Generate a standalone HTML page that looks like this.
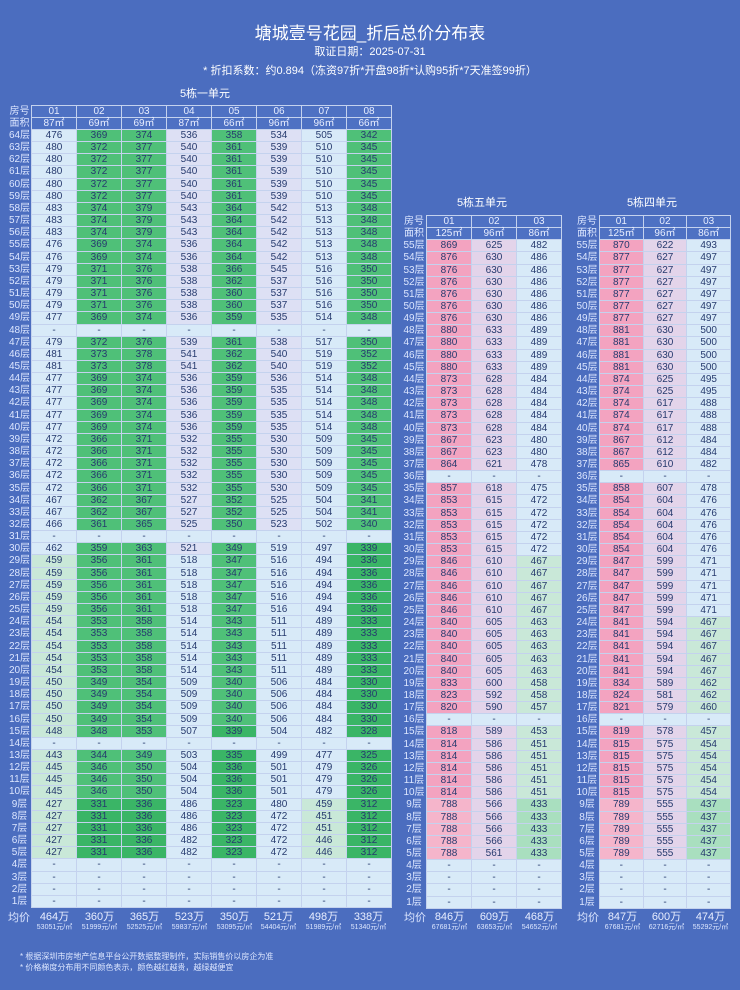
<!DOCTYPE html>
<html><head><meta charset="utf-8">
<style>
*{margin:0;padding:0;box-sizing:border-box}
body{width:740px;height:990px;background:#4b6dbf;font-family:"Liberation Sans","Noto Sans CJK SC",sans-serif;position:relative;overflow:hidden;color:#fff}
.t{position:absolute;left:0;width:740px;text-align:center;white-space:nowrap}
.lab{position:absolute;display:grid;grid-template-columns:1fr;row-gap:1px;font-size:10px;color:#dce6ff;text-align:center}
.lab i{font-style:normal;line-height:11.16px;height:11.16px}
.g8,.g3c{position:absolute;display:grid;gap:1px;background:#c4d2ee;font-size:10px;border:1px solid #c4d2ee}
.g8{grid-template-columns:repeat(8,1fr)}
.g3c{grid-template-columns:repeat(3,1fr)}
.g8 i,.g3c i{font-style:normal;text-align:center;line-height:11.16px;height:11.16px;color:#263a6e;background:#d8eaf8}
i.h{background:#4e71c3!important;color:#e8eeff!important}
i.g{background:#4fc078}i.g2{background:#3ab566}i.lg{background:#c9e8d8}i.b{background:#d8eaf8}i.l{background:#dde0f4}
i.p{background:#f3a3c0}i.p2{background:#f5b5cb}i.m{background:#e3d4ea}i.g3{background:#a9dfbf}
.avg{position:absolute;text-align:center;width:45px;line-height:1}
.avg b{display:block;font-weight:normal;font-size:11px;color:#e8eeff}
.avg s{display:block;text-decoration:none;font-size:7px;color:#dce6ff;margin-top:1px}
</style></head><body>
<div class="t" style="top:19px;font-size:17px">塘城壹号花园_折后总价分布表</div>
<div class="t" style="top:43px;font-size:11px">取证日期：2025-07-31</div>
<div class="t" style="top:62px;font-size:11px">* 折扣系数：约0.894（冻资97折*开盘98折*认购95折*7天准签99折）</div>
<div class="t" style="top:85px;font-size:11px;left:-165px">5栋一单元</div>
<div class="t" style="top:194px;font-size:11px;left:112px">5栋五单元</div>
<div class="t" style="top:194px;font-size:11px;left:282px">5栋四单元</div>

<div class="lab" style="left:8px;top:105.7px;width:23px">
<i>房号</i><i>面积</i><i>64层</i><i>63层</i><i>62层</i><i>61层</i><i>60层</i><i>59层</i><i>58层</i><i>57层</i><i>56层</i><i>55层</i><i>54层</i><i>53层</i><i>52层</i><i>51层</i><i>50层</i><i>49层</i><i>48层</i><i>47层</i><i>46层</i><i>45层</i><i>44层</i><i>43层</i><i>42层</i><i>41层</i><i>40层</i><i>39层</i><i>38层</i><i>37层</i><i>36层</i><i>35层</i><i>34层</i><i>33层</i><i>32层</i><i>31层</i><i>30层</i><i>29层</i><i>28层</i><i>27层</i><i>26层</i><i>25层</i><i>24层</i><i>23层</i><i>22层</i><i>21层</i><i>20层</i><i>19层</i><i>18层</i><i>17层</i><i>16层</i><i>15层</i><i>14层</i><i>13层</i><i>12层</i><i>11层</i><i>10层</i><i>9层</i><i>8层</i><i>7层</i><i>6层</i><i>5层</i><i>4层</i><i>3层</i><i>2层</i><i>1层</i>
</div>
<div class="g8" style="left:31px;top:104.7px;width:361px">
<i class=h>01</i><i class=h>02</i><i class=h>03</i><i class=h>04</i><i class=h>05</i><i class=h>06</i><i class=h>07</i><i class=h>08</i>
<i class=h>87㎡</i><i class=h>69㎡</i><i class=h>69㎡</i><i class=h>87㎡</i><i class=h>66㎡</i><i class=h>96㎡</i><i class=h>96㎡</i><i class=h>66㎡</i>
<i class=b>476</i><i class=g>369</i><i class=g>374</i><i class=l>536</i><i class=g>358</i><i class=l>534</i><i class=b>505</i><i class=g>342</i>
<i class=b>480</i><i class=g>372</i><i class=g>377</i><i class=l>540</i><i class=g>361</i><i class=l>539</i><i class=b>510</i><i class=g>345</i>
<i class=b>480</i><i class=g>372</i><i class=g>377</i><i class=l>540</i><i class=g>361</i><i class=l>539</i><i class=b>510</i><i class=g>345</i>
<i class=b>480</i><i class=g>372</i><i class=g>377</i><i class=l>540</i><i class=g>361</i><i class=l>539</i><i class=b>510</i><i class=g>345</i>
<i class=b>480</i><i class=g>372</i><i class=g>377</i><i class=l>540</i><i class=g>361</i><i class=l>539</i><i class=b>510</i><i class=g>345</i>
<i class=b>480</i><i class=g>372</i><i class=g>377</i><i class=l>540</i><i class=g>361</i><i class=l>539</i><i class=b>510</i><i class=g>345</i>
<i class=b>483</i><i class=g>374</i><i class=g>379</i><i class=l>543</i><i class=g>364</i><i class=l>542</i><i class=b>513</i><i class=g>348</i>
<i class=b>483</i><i class=g>374</i><i class=g>379</i><i class=l>543</i><i class=g>364</i><i class=l>542</i><i class=b>513</i><i class=g>348</i>
<i class=b>483</i><i class=g>374</i><i class=g>379</i><i class=l>543</i><i class=g>364</i><i class=l>542</i><i class=b>513</i><i class=g>348</i>
<i class=b>476</i><i class=g>369</i><i class=g>374</i><i class=l>536</i><i class=g>364</i><i class=l>542</i><i class=b>513</i><i class=g>348</i>
<i class=b>476</i><i class=g>369</i><i class=g>374</i><i class=l>536</i><i class=g>364</i><i class=l>542</i><i class=b>513</i><i class=g>348</i>
<i class=b>479</i><i class=g>371</i><i class=g>376</i><i class=l>538</i><i class=g>366</i><i class=l>545</i><i class=b>516</i><i class=g>350</i>
<i class=b>479</i><i class=g>371</i><i class=g>376</i><i class=l>538</i><i class=g>362</i><i class=l>537</i><i class=b>516</i><i class=g>350</i>
<i class=b>479</i><i class=g>371</i><i class=g>376</i><i class=l>538</i><i class=g>360</i><i class=l>537</i><i class=b>516</i><i class=g>350</i>
<i class=b>479</i><i class=g>371</i><i class=g>376</i><i class=l>538</i><i class=g>360</i><i class=l>537</i><i class=b>516</i><i class=g>350</i>
<i class=b>477</i><i class=g>369</i><i class=g>374</i><i class=l>536</i><i class=g>359</i><i class=l>535</i><i class=b>514</i><i class=g>348</i>
<i>-</i><i>-</i><i>-</i><i>-</i><i>-</i><i>-</i><i>-</i><i>-</i>
<i class=b>479</i><i class=g>372</i><i class=g>376</i><i class=l>539</i><i class=g>361</i><i class=l>538</i><i class=b>517</i><i class=g>350</i>
<i class=b>481</i><i class=g>373</i><i class=g>378</i><i class=l>541</i><i class=g>362</i><i class=l>540</i><i class=b>519</i><i class=g>352</i>
<i class=b>481</i><i class=g>373</i><i class=g>378</i><i class=l>541</i><i class=g>362</i><i class=l>540</i><i class=b>519</i><i class=g>352</i>
<i class=b>477</i><i class=g>369</i><i class=g>374</i><i class=l>536</i><i class=g>359</i><i class=l>536</i><i class=b>514</i><i class=g>348</i>
<i class=b>477</i><i class=g>369</i><i class=g>374</i><i class=l>536</i><i class=g>359</i><i class=l>535</i><i class=b>514</i><i class=g>348</i>
<i class=b>477</i><i class=g>369</i><i class=g>374</i><i class=l>536</i><i class=g>359</i><i class=l>535</i><i class=b>514</i><i class=g>348</i>
<i class=b>477</i><i class=g>369</i><i class=g>374</i><i class=l>536</i><i class=g>359</i><i class=l>535</i><i class=b>514</i><i class=g>348</i>
<i class=b>477</i><i class=g>369</i><i class=g>374</i><i class=l>536</i><i class=g>359</i><i class=l>535</i><i class=b>514</i><i class=g>348</i>
<i class=b>472</i><i class=g>366</i><i class=g>371</i><i class=l>532</i><i class=g>355</i><i class=l>530</i><i class=b>509</i><i class=g>345</i>
<i class=b>472</i><i class=g>366</i><i class=g>371</i><i class=l>532</i><i class=g>355</i><i class=l>530</i><i class=b>509</i><i class=g>345</i>
<i class=b>472</i><i class=g>366</i><i class=g>371</i><i class=l>532</i><i class=g>355</i><i class=l>530</i><i class=b>509</i><i class=g>345</i>
<i class=b>472</i><i class=g>366</i><i class=g>371</i><i class=l>532</i><i class=g>355</i><i class=l>530</i><i class=b>509</i><i class=g>345</i>
<i class=b>472</i><i class=g>366</i><i class=g>371</i><i class=l>532</i><i class=g>355</i><i class=l>530</i><i class=b>509</i><i class=g>345</i>
<i class=b>467</i><i class=g>362</i><i class=g>367</i><i class=l>527</i><i class=g>352</i><i class=l>525</i><i class=b>504</i><i class=g>341</i>
<i class=b>467</i><i class=g>362</i><i class=g>367</i><i class=l>527</i><i class=g>352</i><i class=l>525</i><i class=b>504</i><i class=g>341</i>
<i class=b>466</i><i class=g>361</i><i class=g>365</i><i class=l>525</i><i class=g>350</i><i class=l>523</i><i class=b>502</i><i class=g>340</i>
<i>-</i><i>-</i><i>-</i><i>-</i><i>-</i><i>-</i><i>-</i><i>-</i>
<i class=b>462</i><i class=g>359</i><i class=g>363</i><i class=l>521</i><i class=g>349</i><i class=b>519</i><i class=b>497</i><i class=g2>339</i>
<i class=lg>459</i><i class=g>356</i><i class=g>361</i><i class=b>518</i><i class=g>347</i><i class=b>516</i><i class=b>494</i><i class=g2>336</i>
<i class=lg>459</i><i class=g>356</i><i class=g>361</i><i class=b>518</i><i class=g>347</i><i class=b>516</i><i class=b>494</i><i class=g2>336</i>
<i class=lg>459</i><i class=g>356</i><i class=g>361</i><i class=b>518</i><i class=g>347</i><i class=b>516</i><i class=b>494</i><i class=g2>336</i>
<i class=lg>459</i><i class=g>356</i><i class=g>361</i><i class=b>518</i><i class=g>347</i><i class=b>516</i><i class=b>494</i><i class=g2>336</i>
<i class=lg>459</i><i class=g>356</i><i class=g>361</i><i class=b>518</i><i class=g>347</i><i class=b>516</i><i class=b>494</i><i class=g2>336</i>
<i class=lg>454</i><i class=g>353</i><i class=g>358</i><i class=b>514</i><i class=g>343</i><i class=b>511</i><i class=b>489</i><i class=g2>333</i>
<i class=lg>454</i><i class=g>353</i><i class=g>358</i><i class=b>514</i><i class=g>343</i><i class=b>511</i><i class=b>489</i><i class=g2>333</i>
<i class=lg>454</i><i class=g>353</i><i class=g>358</i><i class=b>514</i><i class=g>343</i><i class=b>511</i><i class=b>489</i><i class=g2>333</i>
<i class=lg>454</i><i class=g>353</i><i class=g>358</i><i class=b>514</i><i class=g>343</i><i class=b>511</i><i class=b>489</i><i class=g2>333</i>
<i class=lg>454</i><i class=g>353</i><i class=g>358</i><i class=b>514</i><i class=g>343</i><i class=b>511</i><i class=b>489</i><i class=g2>333</i>
<i class=lg>450</i><i class=g>349</i><i class=g>354</i><i class=b>509</i><i class=g>340</i><i class=b>506</i><i class=b>484</i><i class=g2>330</i>
<i class=lg>450</i><i class=g>349</i><i class=g>354</i><i class=b>509</i><i class=g>340</i><i class=b>506</i><i class=b>484</i><i class=g2>330</i>
<i class=lg>450</i><i class=g>349</i><i class=g>354</i><i class=b>509</i><i class=g>340</i><i class=b>506</i><i class=b>484</i><i class=g2>330</i>
<i class=lg>450</i><i class=g>349</i><i class=g>354</i><i class=b>509</i><i class=g>340</i><i class=b>506</i><i class=b>484</i><i class=g2>330</i>
<i class=lg>448</i><i class=g>348</i><i class=g>353</i><i class=b>507</i><i class=g2>339</i><i class=b>504</i><i class=b>482</i><i class=g2>328</i>
<i>-</i><i>-</i><i>-</i><i>-</i><i>-</i><i>-</i><i>-</i><i>-</i>
<i class=lg>443</i><i class=g>344</i><i class=g>349</i><i class=b>503</i><i class=g2>335</i><i class=b>499</i><i class=b>477</i><i class=g2>325</i>
<i class=lg>445</i><i class=g>346</i><i class=g>350</i><i class=b>504</i><i class=g2>336</i><i class=b>501</i><i class=b>479</i><i class=g2>326</i>
<i class=lg>445</i><i class=g>346</i><i class=g>350</i><i class=b>504</i><i class=g2>336</i><i class=b>501</i><i class=b>479</i><i class=g2>326</i>
<i class=lg>445</i><i class=g>346</i><i class=g>350</i><i class=b>504</i><i class=g2>336</i><i class=b>501</i><i class=b>479</i><i class=g2>326</i>
<i class=lg>427</i><i class=g2>331</i><i class=g2>336</i><i class=b>486</i><i class=g2>323</i><i class=b>480</i><i class=lg>459</i><i class=g2>312</i>
<i class=lg>427</i><i class=g2>331</i><i class=g2>336</i><i class=b>486</i><i class=g2>323</i><i class=b>472</i><i class=lg>451</i><i class=g2>312</i>
<i class=lg>427</i><i class=g2>331</i><i class=g2>336</i><i class=b>486</i><i class=g2>323</i><i class=b>472</i><i class=lg>451</i><i class=g2>312</i>
<i class=lg>427</i><i class=g2>331</i><i class=g2>336</i><i class=b>482</i><i class=g2>323</i><i class=b>472</i><i class=lg>446</i><i class=g2>312</i>
<i class=lg>427</i><i class=g2>331</i><i class=g2>336</i><i class=b>482</i><i class=g2>323</i><i class=b>472</i><i class=lg>446</i><i class=g2>312</i>
<i>-</i><i>-</i><i>-</i><i>-</i><i>-</i><i>-</i><i>-</i><i>-</i>
<i>-</i><i>-</i><i>-</i><i>-</i><i>-</i><i>-</i><i>-</i><i>-</i>
<i>-</i><i>-</i><i>-</i><i>-</i><i>-</i><i>-</i><i>-</i><i>-</i>
<i>-</i><i>-</i><i>-</i><i>-</i><i>-</i><i>-</i><i>-</i><i>-</i>
</div>

<div class="lab" style="left:6px;top:913px;width:26px;font-size:11px"><i>均价</i></div>
<div class="avg" style="left:32px;top:912px"><b>464万</b><s>53051元/㎡</s></div>
<div class="avg" style="left:77px;top:912px"><b>360万</b><s>51999元/㎡</s></div>
<div class="avg" style="left:122px;top:912px"><b>365万</b><s>52525元/㎡</s></div>
<div class="avg" style="left:167px;top:912px"><b>523万</b><s>59837元/㎡</s></div>
<div class="avg" style="left:212px;top:912px"><b>350万</b><s>53095元/㎡</s></div>
<div class="avg" style="left:256px;top:912px"><b>521万</b><s>54404元/㎡</s></div>
<div class="avg" style="left:301px;top:912px"><b>498万</b><s>51989元/㎡</s></div>
<div class="avg" style="left:346px;top:912px"><b>338万</b><s>51340元/㎡</s></div>

<div class="lab" style="left:402px;top:215.9px;width:24px">
<i>房号</i><i>面积</i><i>55层</i><i>54层</i><i>53层</i><i>52层</i><i>51层</i><i>50层</i><i>49层</i><i>48层</i><i>47层</i><i>46层</i><i>45层</i><i>44层</i><i>43层</i><i>42层</i><i>41层</i><i>40层</i><i>39层</i><i>38层</i><i>37层</i><i>36层</i><i>35层</i><i>34层</i><i>33层</i><i>32层</i><i>31层</i><i>30层</i><i>29层</i><i>28层</i><i>27层</i><i>26层</i><i>25层</i><i>24层</i><i>23层</i><i>22层</i><i>21层</i><i>20层</i><i>19层</i><i>18层</i><i>17层</i><i>16层</i><i>15层</i><i>14层</i><i>13层</i><i>12层</i><i>11层</i><i>10层</i><i>9层</i><i>8层</i><i>7层</i><i>6层</i><i>5层</i><i>4层</i><i>3层</i><i>2层</i><i>1层</i>
</div>
<div class="g3c" style="left:426px;top:214.9px;width:136px">
<i class=h>01</i><i class=h>02</i><i class=h>03</i>
<i class=h>125㎡</i><i class=h>96㎡</i><i class=h>86㎡</i>
<i class=p>869</i><i class=m>625</i><i class=b>482</i>
<i class=p>876</i><i class=m>630</i><i class=b>486</i>
<i class=p>876</i><i class=m>630</i><i class=b>486</i>
<i class=p>876</i><i class=m>630</i><i class=b>486</i>
<i class=p>876</i><i class=m>630</i><i class=b>486</i>
<i class=p>876</i><i class=m>630</i><i class=b>486</i>
<i class=p>876</i><i class=m>630</i><i class=b>486</i>
<i class=p>880</i><i class=m>633</i><i class=b>489</i>
<i class=p>880</i><i class=m>633</i><i class=b>489</i>
<i class=p>880</i><i class=m>633</i><i class=b>489</i>
<i class=p>880</i><i class=m>633</i><i class=b>489</i>
<i class=p>873</i><i class=m>628</i><i class=b>484</i>
<i class=p>873</i><i class=m>628</i><i class=b>484</i>
<i class=p>873</i><i class=m>628</i><i class=b>484</i>
<i class=p>873</i><i class=m>628</i><i class=b>484</i>
<i class=p>873</i><i class=m>628</i><i class=b>484</i>
<i class=p>867</i><i class=m>623</i><i class=b>480</i>
<i class=p>867</i><i class=m>623</i><i class=b>480</i>
<i class=p>864</i><i class=m>621</i><i class=b>478</i>
<i>-</i><i>-</i><i>-</i>
<i class=p>857</i><i class=m>618</i><i class=b>475</i>
<i class=p>853</i><i class=m>615</i><i class=b>472</i>
<i class=p>853</i><i class=m>615</i><i class=b>472</i>
<i class=p>853</i><i class=m>615</i><i class=b>472</i>
<i class=p>853</i><i class=m>615</i><i class=b>472</i>
<i class=p>853</i><i class=m>615</i><i class=b>472</i>
<i class=p>846</i><i class=m>610</i><i class=lg>467</i>
<i class=p>846</i><i class=m>610</i><i class=lg>467</i>
<i class=p>846</i><i class=m>610</i><i class=lg>467</i>
<i class=p>846</i><i class=m>610</i><i class=lg>467</i>
<i class=p>846</i><i class=m>610</i><i class=lg>467</i>
<i class=p>840</i><i class=m>605</i><i class=lg>463</i>
<i class=p>840</i><i class=m>605</i><i class=lg>463</i>
<i class=p>840</i><i class=m>605</i><i class=lg>463</i>
<i class=p>840</i><i class=m>605</i><i class=lg>463</i>
<i class=p>840</i><i class=m>605</i><i class=lg>463</i>
<i class=p>833</i><i class=m>600</i><i class=lg>458</i>
<i class=p>823</i><i class=m>592</i><i class=lg>458</i>
<i class=p>820</i><i class=m>590</i><i class=lg>457</i>
<i>-</i><i>-</i><i>-</i>
<i class=p>818</i><i class=m>589</i><i class=lg>453</i>
<i class=p>814</i><i class=m>586</i><i class=lg>451</i>
<i class=p>814</i><i class=m>586</i><i class=lg>451</i>
<i class=p>814</i><i class=m>586</i><i class=lg>451</i>
<i class=p>814</i><i class=m>586</i><i class=lg>451</i>
<i class=p>814</i><i class=m>586</i><i class=lg>451</i>
<i class=p2>788</i><i class=m>566</i><i class=g3>433</i>
<i class=p2>788</i><i class=m>566</i><i class=g3>433</i>
<i class=p2>788</i><i class=m>566</i><i class=g3>433</i>
<i class=p2>788</i><i class=m>566</i><i class=g3>433</i>
<i class=p2>788</i><i class=m>561</i><i class=g3>433</i>
<i>-</i><i>-</i><i>-</i>
<i>-</i><i>-</i><i>-</i>
<i>-</i><i>-</i><i>-</i>
<i>-</i><i>-</i><i>-</i>
</div>
<div class="lab" style="left:402px;top:913px;width:26px;font-size:11px"><i>均价</i></div>
<div class="avg" style="left:427px;top:912px"><b>846万</b><s>67681元/㎡</s></div>
<div class="avg" style="left:472px;top:912px"><b>609万</b><s>63653元/㎡</s></div>
<div class="avg" style="left:517px;top:912px"><b>468万</b><s>54652元/㎡</s></div>

<div class="lab" style="left:575px;top:215.9px;width:24px">
<i>房号</i><i>面积</i><i>55层</i><i>54层</i><i>53层</i><i>52层</i><i>51层</i><i>50层</i><i>49层</i><i>48层</i><i>47层</i><i>46层</i><i>45层</i><i>44层</i><i>43层</i><i>42层</i><i>41层</i><i>40层</i><i>39层</i><i>38层</i><i>37层</i><i>36层</i><i>35层</i><i>34层</i><i>33层</i><i>32层</i><i>31层</i><i>30层</i><i>29层</i><i>28层</i><i>27层</i><i>26层</i><i>25层</i><i>24层</i><i>23层</i><i>22层</i><i>21层</i><i>20层</i><i>19层</i><i>18层</i><i>17层</i><i>16层</i><i>15层</i><i>14层</i><i>13层</i><i>12层</i><i>11层</i><i>10层</i><i>9层</i><i>8层</i><i>7层</i><i>6层</i><i>5层</i><i>4层</i><i>3层</i><i>2层</i><i>1层</i>
</div>
<div class="g3c" style="left:599px;top:214.9px;width:132px">
<i class=h>01</i><i class=h>02</i><i class=h>03</i>
<i class=h>125㎡</i><i class=h>96㎡</i><i class=h>86㎡</i>
<i class=p>870</i><i class=m>622</i><i class=b>493</i>
<i class=p>877</i><i class=m>627</i><i class=b>497</i>
<i class=p>877</i><i class=m>627</i><i class=b>497</i>
<i class=p>877</i><i class=m>627</i><i class=b>497</i>
<i class=p>877</i><i class=m>627</i><i class=b>497</i>
<i class=p>877</i><i class=m>627</i><i class=b>497</i>
<i class=p>877</i><i class=m>627</i><i class=b>497</i>
<i class=p>881</i><i class=m>630</i><i class=b>500</i>
<i class=p>881</i><i class=m>630</i><i class=b>500</i>
<i class=p>881</i><i class=m>630</i><i class=b>500</i>
<i class=p>881</i><i class=m>630</i><i class=b>500</i>
<i class=p>874</i><i class=m>625</i><i class=b>495</i>
<i class=p>874</i><i class=m>625</i><i class=b>495</i>
<i class=p>874</i><i class=m>617</i><i class=b>488</i>
<i class=p>874</i><i class=m>617</i><i class=b>488</i>
<i class=p>874</i><i class=m>617</i><i class=b>488</i>
<i class=p>867</i><i class=m>612</i><i class=b>484</i>
<i class=p>867</i><i class=m>612</i><i class=b>484</i>
<i class=p>865</i><i class=m>610</i><i class=b>482</i>
<i>-</i><i>-</i><i>-</i>
<i class=p>858</i><i class=m>607</i><i class=b>478</i>
<i class=p>854</i><i class=m>604</i><i class=b>476</i>
<i class=p>854</i><i class=m>604</i><i class=b>476</i>
<i class=p>854</i><i class=m>604</i><i class=b>476</i>
<i class=p>854</i><i class=m>604</i><i class=b>476</i>
<i class=p>854</i><i class=m>604</i><i class=b>476</i>
<i class=p>847</i><i class=m>599</i><i class=b>471</i>
<i class=p>847</i><i class=m>599</i><i class=b>471</i>
<i class=p>847</i><i class=m>599</i><i class=b>471</i>
<i class=p>847</i><i class=m>599</i><i class=b>471</i>
<i class=p>847</i><i class=m>599</i><i class=b>471</i>
<i class=p>841</i><i class=m>594</i><i class=lg>467</i>
<i class=p>841</i><i class=m>594</i><i class=lg>467</i>
<i class=p>841</i><i class=m>594</i><i class=lg>467</i>
<i class=p>841</i><i class=m>594</i><i class=lg>467</i>
<i class=p>841</i><i class=m>594</i><i class=lg>467</i>
<i class=p>834</i><i class=m>589</i><i class=lg>462</i>
<i class=p>824</i><i class=m>581</i><i class=lg>462</i>
<i class=p>821</i><i class=m>579</i><i class=lg>460</i>
<i>-</i><i>-</i><i>-</i>
<i class=p>819</i><i class=m>578</i><i class=lg>457</i>
<i class=p>815</i><i class=m>575</i><i class=lg>454</i>
<i class=p>815</i><i class=m>575</i><i class=lg>454</i>
<i class=p>815</i><i class=m>575</i><i class=lg>454</i>
<i class=p>815</i><i class=m>575</i><i class=lg>454</i>
<i class=p>815</i><i class=m>575</i><i class=lg>454</i>
<i class=p2>789</i><i class=m>555</i><i class=g3>437</i>
<i class=p2>789</i><i class=m>555</i><i class=g3>437</i>
<i class=p2>789</i><i class=m>555</i><i class=g3>437</i>
<i class=p2>789</i><i class=m>555</i><i class=g3>437</i>
<i class=p2>789</i><i class=m>555</i><i class=g3>437</i>
<i>-</i><i>-</i><i>-</i>
<i>-</i><i>-</i><i>-</i>
<i>-</i><i>-</i><i>-</i>
<i>-</i><i>-</i><i>-</i>
</div>
<div class="lab" style="left:575px;top:913px;width:26px;font-size:11px"><i>均价</i></div>
<div class="avg" style="left:600px;top:912px"><b>847万</b><s>67681元/㎡</s></div>
<div class="avg" style="left:644px;top:912px"><b>600万</b><s>62716元/㎡</s></div>
<div class="avg" style="left:688px;top:912px"><b>474万</b><s>55292元/㎡</s></div>

<div style="position:absolute;left:20px;top:951px;font-size:8px;color:#dce6ff;line-height:11px">* 根据深圳市房地产信息平台公开数据整理制作，实际销售价以房企为准<br>* 价格梯度分布用不同颜色表示，颜色越红越贵，越绿越便宜</div>
</body></html>
